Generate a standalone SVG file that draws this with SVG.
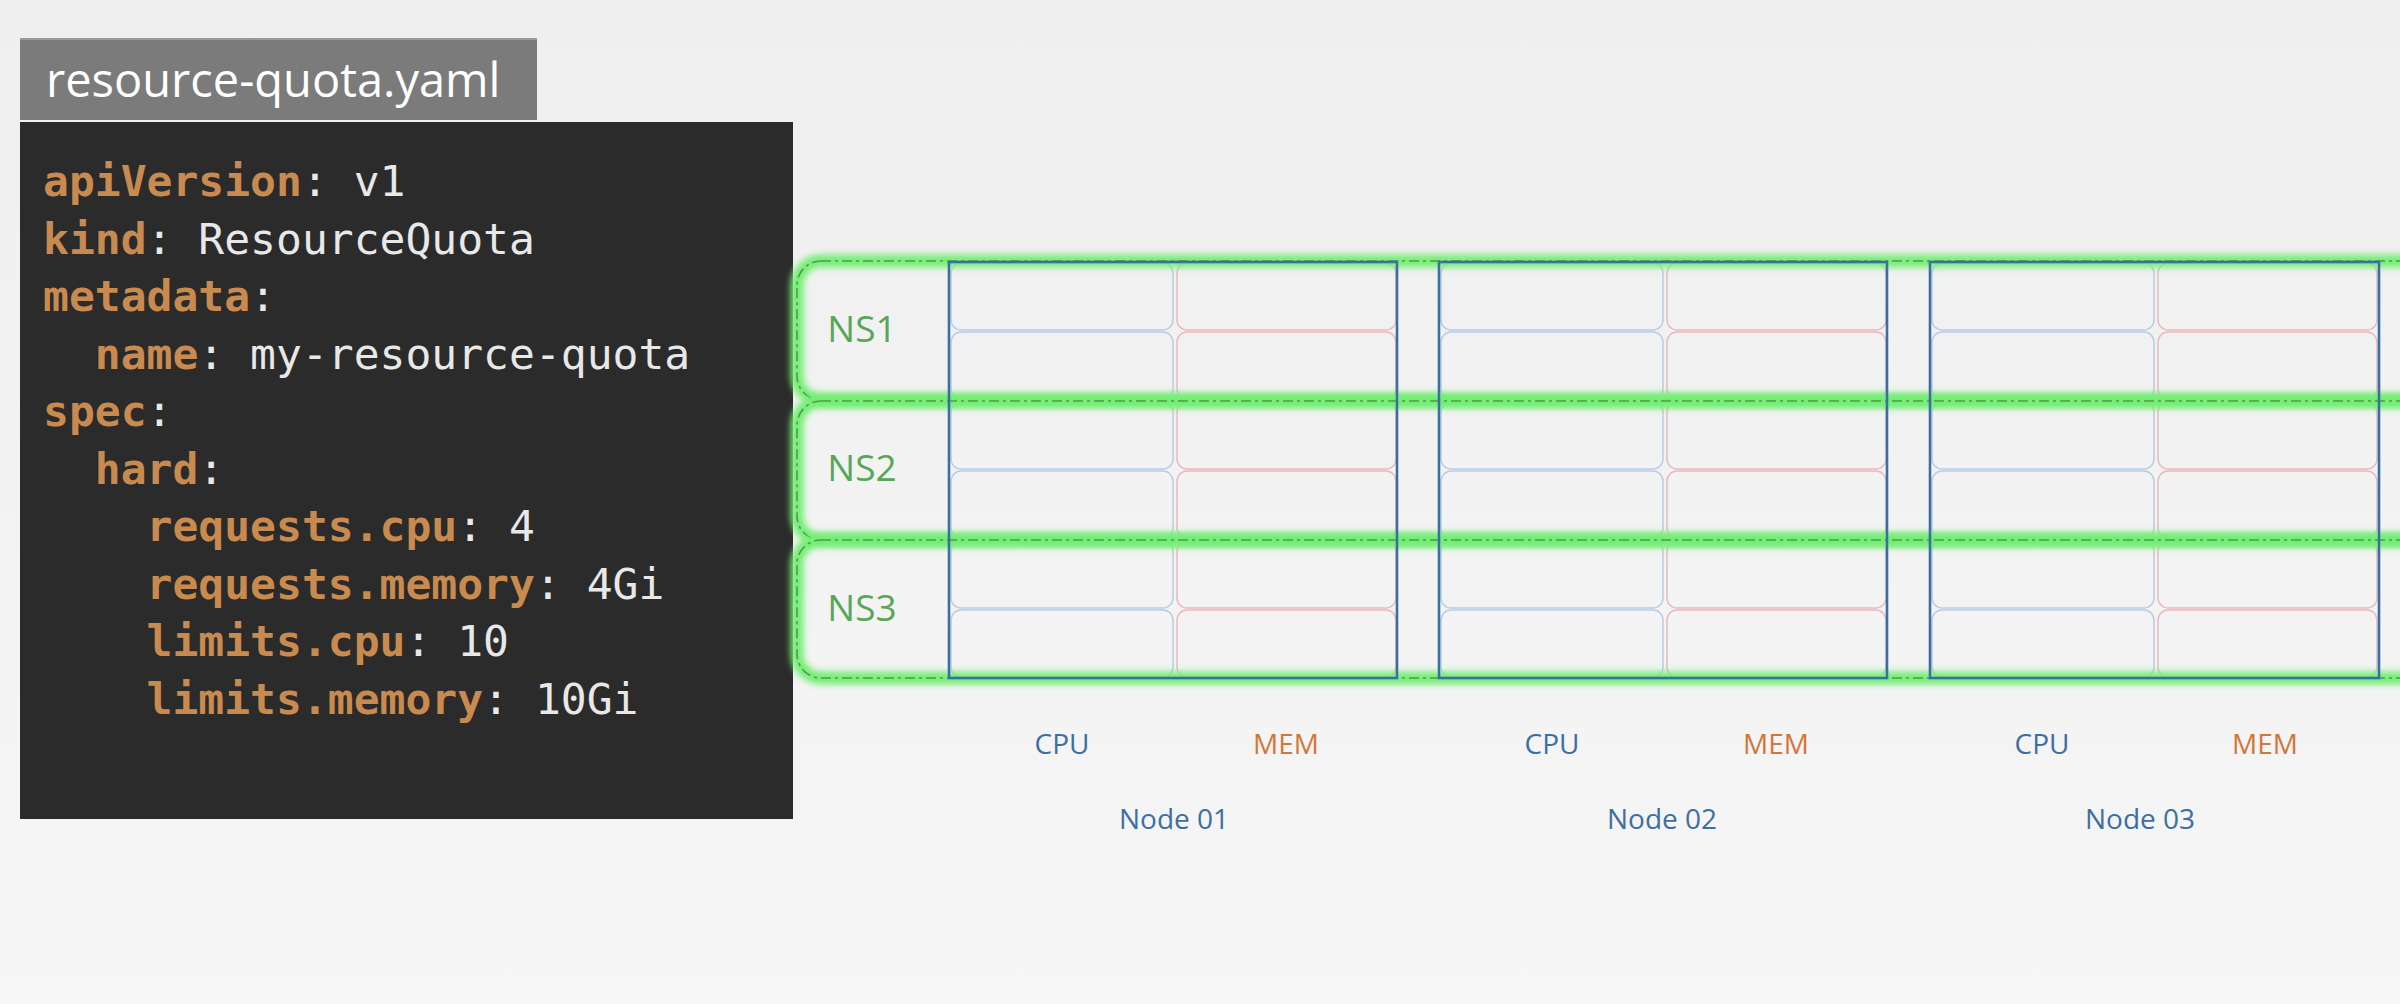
<svg xmlns="http://www.w3.org/2000/svg" width="2400" height="1004" viewBox="0 0 2400 1004">
<defs>
<linearGradient id="bg" x1="0" y1="0" x2="0" y2="1">
<stop offset="0" stop-color="#efefef"/>
<stop offset="1" stop-color="#f6f6f6"/>
</linearGradient>
<filter id="glow" x="-5%" y="-20%" width="110%" height="140%">
<feGaussianBlur stdDeviation="3.2"/>
</filter>
<style>
.code{font-family:"DejaVu Sans Mono","Liberation Mono",monospace;font-size:43px;fill:#e8e8e8}
.k{fill:#c98a4f;font-weight:bold}
.title{font-family:"Open Sans","Noto Sans",sans-serif;font-size:47px;fill:#ffffff}
.lbl{font-family:"Open Sans","Noto Sans",sans-serif;font-size:28px;text-anchor:middle}
.ns{font-family:"Open Sans","Noto Sans",sans-serif;font-size:37px;fill:#58a658;text-anchor:middle}
.blue{fill:#3d6fa3}
.orange{fill:#d2773a}
.cpu{fill:none;stroke:#b9cde3;stroke-width:1.5}
.mem{fill:none;stroke:#e9b9c0;stroke-width:1.5}
.nodebox{fill:none;stroke:#3b6ea5;stroke-width:2.6}
.bandglow{fill:none;stroke:#74ee74;stroke-width:13;filter:url(#glow)}
.banddash{fill:none;stroke:#4f9a4f;stroke-width:1.6;stroke-dasharray:10 4 3 4}
</style>
<g id="cells">
<rect class="cpu" x="951" y="263" width="222" height="67" rx="10"/>
<rect class="cpu" x="951" y="332" width="222" height="67" rx="10"/>
<rect class="cpu" x="951" y="402" width="222" height="67" rx="10"/>
<rect class="cpu" x="951" y="471" width="222" height="67" rx="10"/>
<rect class="cpu" x="951" y="541" width="222" height="67" rx="10"/>
<rect class="cpu" x="951" y="610" width="222" height="67" rx="10"/>
<rect class="mem" x="1177" y="263" width="219" height="67" rx="10"/>
<rect class="mem" x="1177" y="332" width="219" height="67" rx="10"/>
<rect class="mem" x="1177" y="402" width="219" height="67" rx="10"/>
<rect class="mem" x="1177" y="471" width="219" height="67" rx="10"/>
<rect class="mem" x="1177" y="541" width="219" height="67" rx="10"/>
<rect class="mem" x="1177" y="610" width="219" height="67" rx="10"/>
</g>
</defs>
<rect x="0" y="0" width="2400" height="1004" fill="url(#bg)"/>

<g id="title">
<rect x="20" y="38" width="517" height="82" fill="#7b7b7b"/>
<rect x="20" y="38" width="517" height="2" fill="#999999"/>
<text class="title" x="46" y="97">resource-quota.yaml</text>
</g>

<g id="code">
<rect x="20" y="122" width="773" height="697" fill="#2b2b2b"/>
<text class="code" x="43" y="196"><tspan class="k">apiVersion</tspan>: v1</text>
<text class="code" x="43" y="253.5"><tspan class="k">kind</tspan>: ResourceQuota</text>
<text class="code" x="43" y="311"><tspan class="k">metadata</tspan>:</text>
<text class="code" x="43" y="368.5" xml:space="preserve">  <tspan class="k">name</tspan>: my-resource-quota</text>
<text class="code" x="43" y="426"><tspan class="k">spec</tspan>:</text>
<text class="code" x="43" y="483.5" xml:space="preserve">  <tspan class="k">hard</tspan>:</text>
<text class="code" x="43" y="541" xml:space="preserve">    <tspan class="k">requests.cpu</tspan>: 4</text>
<text class="code" x="43" y="598.5" xml:space="preserve">    <tspan class="k">requests.memory</tspan>: 4Gi</text>
<text class="code" x="43" y="656" xml:space="preserve">    <tspan class="k">limits.cpu</tspan>: 10</text>
<text class="code" x="43" y="713.5" xml:space="preserve">    <tspan class="k">limits.memory</tspan>: 10Gi</text>
</g>

<g id="node-cells">
<use href="#cells" x="0"/>
<use href="#cells" x="490"/>
<use href="#cells" x="981"/>
</g>

<g id="ns1">
<rect class="bandglow" x="797" y="261" width="1640" height="139" rx="24"/>
<rect class="banddash" x="797" y="261" width="1640" height="139" rx="24"/>
<text class="ns" x="862" y="342">NS1</text>
</g>
<g id="ns2">
<rect class="bandglow" x="797" y="401" width="1640" height="139" rx="24"/>
<rect class="banddash" x="797" y="401" width="1640" height="139" rx="24"/>
<text class="ns" x="862" y="481">NS2</text>
</g>
<g id="ns3">
<rect class="bandglow" x="797" y="540" width="1640" height="138" rx="24"/>
<rect class="banddash" x="797" y="540" width="1640" height="138" rx="24"/>
<text class="ns" x="862" y="621">NS3</text>
</g>

<g id="node01">
<rect class="nodebox" x="949" y="262" width="448" height="416"/>
<text class="lbl blue" x="1062" y="754">CPU</text>
<text class="lbl orange" x="1286" y="754">MEM</text>
<text class="lbl blue" x="1174" y="829">Node 01</text>
</g>

<g id="node02">
<rect class="nodebox" x="1439" y="262" width="448" height="416"/>
<text class="lbl blue" x="1552" y="754">CPU</text>
<text class="lbl orange" x="1776" y="754">MEM</text>
<text class="lbl blue" x="1662" y="829">Node 02</text>
</g>

<g id="node03">
<rect class="nodebox" x="1930" y="262" width="449" height="416"/>
<text class="lbl blue" x="2042" y="754">CPU</text>
<text class="lbl orange" x="2265" y="754">MEM</text>
<text class="lbl blue" x="2140" y="829">Node 03</text>
</g>

<g id="connectors"/>
</svg>
